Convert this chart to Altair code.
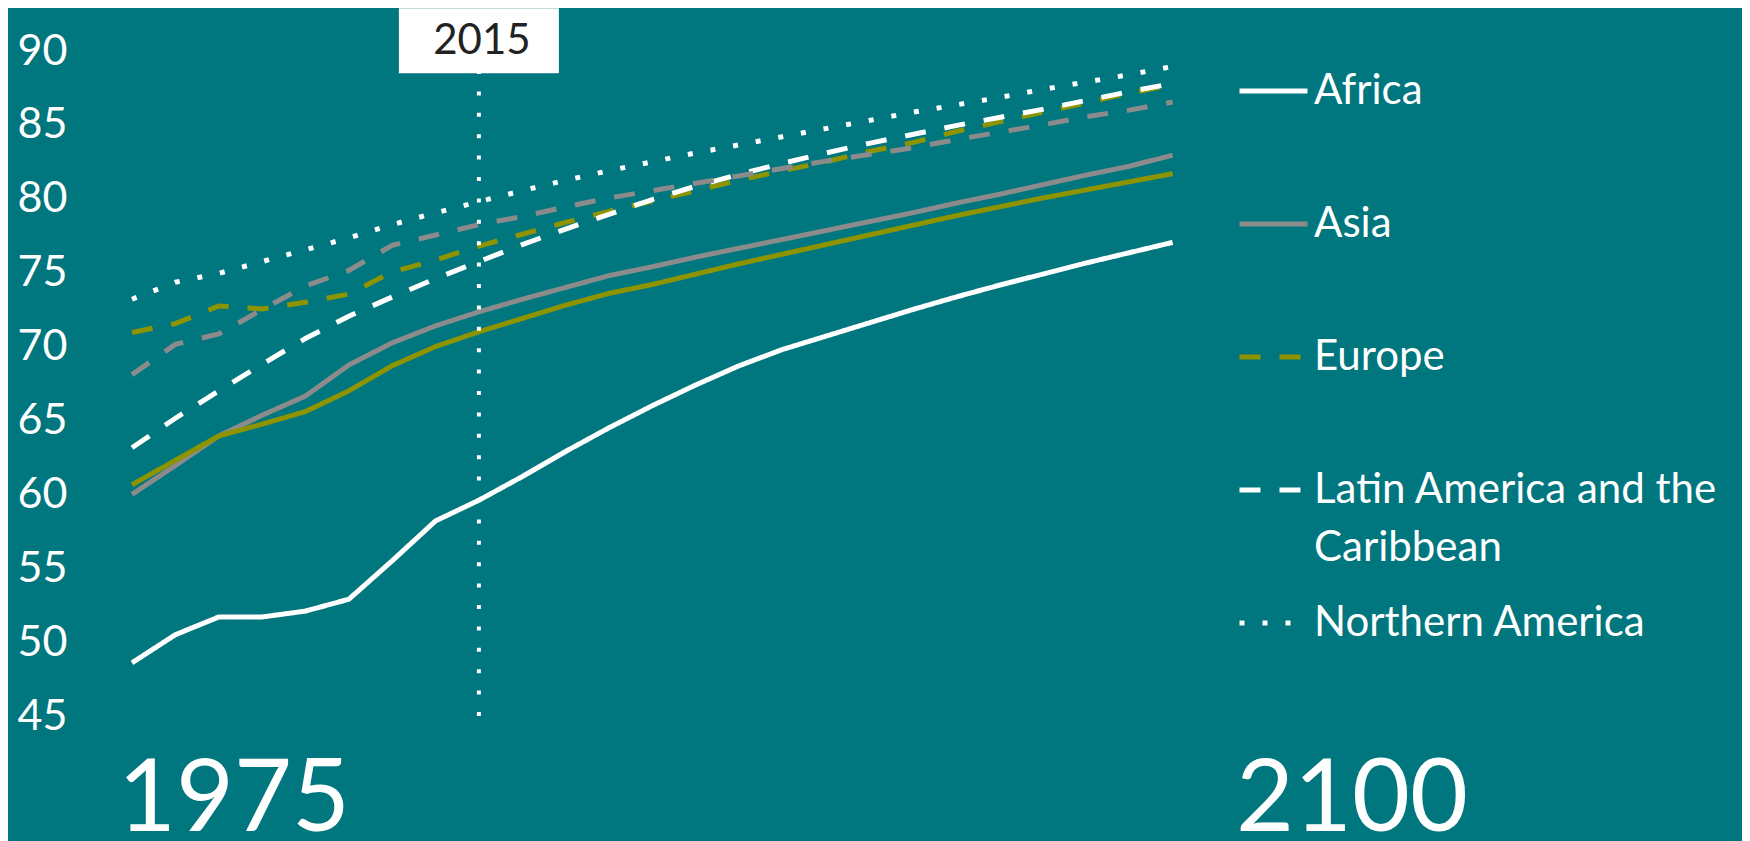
import altair as alt
import pandas as pd

# Five-year periods (start year), 1975-1980 ... 2095-2100
years = list(range(1975, 2100, 5))

africa = [48.6, 50.5, 51.7, 51.7, 52.1, 52.9, 55.5, 58.2, 59.6, 61.2, 62.9, 64.5, 66.0,
          67.4, 68.7, 69.8, 70.7, 71.6, 72.5, 73.35, 74.15, 74.9, 75.65, 76.35, 77.05]
asia = [60.0, 61.95, 63.95, 65.35, 66.65, 68.75, 70.25, 71.4, 72.35, 73.2, 74.0, 74.8, 75.4,
        76.05, 76.65, 77.25, 77.85, 78.45, 79.05, 79.7, 80.3, 80.95, 81.6, 82.2, 82.95]
europe = [70.95, 71.55, 72.75, 72.55, 73.0, 73.55, 75.05, 75.85, 76.8, 77.6, 78.4, 79.15, 79.85,
          80.55, 81.25, 81.9, 82.5, 83.2, 83.8, 84.55, 85.2, 85.85, 86.5, 87.15, 87.7]
latin = [63.15, 65.15, 67.0, 68.8, 70.55, 72.05, 73.35, 74.6, 75.75, 76.9, 77.95, 78.95, 79.95,
         80.85, 81.65, 82.4, 83.1, 83.75, 84.35, 84.95, 85.5, 86.05, 86.65, 87.25, 87.8]
northern = [73.2, 74.35, 74.95, 75.75, 76.55, 77.35, 78.25, 79.05, 79.8, 80.55, 81.25, 81.9, 82.5,
            83.1, 83.65, 84.2, 84.75, 85.3, 85.85, 86.35, 86.85, 87.4, 87.9, 88.4, 88.95]
oceania = [68.1, 70.15, 70.85, 72.5, 74.1, 75.15, 76.85, 77.55, 78.25, 78.8, 79.45, 80.05, 80.55,
           81.05, 81.55, 82.05, 82.55, 83.0, 83.45, 84.0, 84.5, 85.0, 85.55, 86.0, 86.55]
world = [60.65, 62.3, 63.95, 64.75, 65.6, 67.0, 68.7, 70.0, 71.0, 71.9, 72.8, 73.6, 74.2,
         74.9, 75.6, 76.25, 76.9, 77.55, 78.2, 78.85, 79.45, 80.05, 80.6, 81.15, 81.7]

regions = ["Africa", "Asia", "Europe", "Latin America and the Caribbean",
           "Northern America", "Oceania", "World"]
series = [africa, asia, europe, latin, northern, oceania, world]
legend_regions = regions[:5]

colors = ["#FFFFFF", "#8B8B8B", "#8D9400", "#FFFFFF", "#FFFFFF", "#8B8B8B", "#8D9400"]
dashes = [[1, 0], [1, 0], [21, 19], [21, 19], [5, 18], [21, 19], [1, 0]]
draw_order = [6, 1, 0, 5, 2, 3, 4]  # World, Asia, Africa, Oceania, Europe, Latin, Northern

rows = []
for name, vals in zip(regions, series):
    for yr, v in zip(years, vals):
        rows.append({"region": name, "year": yr, "le": v,
                     "layer": draw_order.index(regions.index(name))})
df = pd.DataFrame(rows)

mark_year = [2015]
mark_label = ["2015"]
ann = pd.DataFrame({"year": mark_year, "label": mark_label,
                    "lo": [45], "hi": [89], "box_y": [90.7]})

edge_years = [1975, 2100]
edge_labels = ["1975", "2100"]
edges = pd.DataFrame({"year": edge_years, "label": edge_labels, "pos": [45, 45]})

BG = "#00767E"
FONT = "Lato"

legend = alt.Legend(
    title=None, orient="none", legendX=1105, legendY=3.5,
    values=legend_regions, symbolType="stroke", symbolSize=4624,
    symbolStrokeWidth=5, labelColor="white", labelFont=FONT, labelFontSize=42,
    labelLimit=700, labelOffset=4, rowPadding=17, padding=0, gridAlign="all",
    labelExpr="datum.label == 'Latin America and the Caribbean' ? "
              "['Latin America and the', 'Caribbean'] : datum.label",
)

xscale = alt.Scale(domain=[1975, 2100], nice=False, zero=False)
yscale = alt.Scale(domain=[45, 90], nice=False, zero=False)

lines = alt.Chart(df).mark_line(strokeWidth=5, clip=False).encode(
    x=alt.X("year:Q", scale=xscale, axis=None),
    y=alt.Y("le:Q", scale=yscale, axis=alt.Axis(
        values=list(range(45, 95, 5)), title=None, domain=False, ticks=False,
        grid=False, labelColor="white", labelFont=FONT, labelFontSize=43,
        labelPadding=65)),
    color=alt.Color("region:N", scale=alt.Scale(domain=regions, range=colors), legend=legend),
    strokeDash=alt.StrokeDash("region:N", scale=alt.Scale(domain=regions, range=dashes),
                              legend=legend),
    detail="layer:O",
)

rule = alt.Chart(ann).mark_rule(color="white", strokeWidth=4, strokeDash=[4, 17.4]).encode(
    x="year:Q", y="lo:Q", y2="hi:Q")

box = alt.Chart(ann).mark_rect(color="white", width=160, height=65).encode(
    x="year:Q", y="box_y:Q")

box_text = alt.Chart(ann).mark_text(font=FONT, fontSize=42, color="#222222",
                                    baseline="middle", dx=3).encode(
    x="year:Q", y="box_y:Q", text="label:N")

left_label = alt.Chart(edges).transform_filter(alt.datum.year == 1975).mark_text(
    font=FONT, fontSize=100, color="white", align="left", baseline="alphabetic",
    dx=-14, dy=115).encode(x="year:Q", y="pos:Q", text="label:N")

right_label = alt.Chart(edges).transform_filter(alt.datum.year == 2100).mark_text(
    font=FONT, fontSize=100, color="white", align="left", baseline="alphabetic",
    dx=20, dy=115).encode(x="year:Q", y="pos:Q", text="label:N")

chart = alt.layer(lines, rule, box, box_text, left_label, right_label).properties(
    width=1084, height=665,
    autosize=alt.AutoSizeParams(type="none"),
    padding={"left": 124, "top": 43, "right": 526, "bottom": 125},
).configure(
    background=BG, font=FONT,
    style={"guide-label": {"lineHeight": 58}},
).configure_view(stroke=None)

chart.save("out.html", embed_options={"renderer": "svg", "actions": False})
